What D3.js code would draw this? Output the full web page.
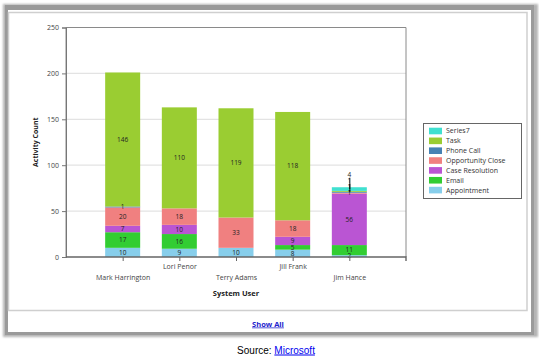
<!DOCTYPE html>
<html><head><meta charset="utf-8">
<script src="https://cdn.jsdelivr.net/npm/d3@7"></script>
<style>
html,body{margin:0;padding:0;background:#fff;}
svg{display:block;}
</style></head>
<body>
<svg id="chart" width="539" height="357"></svg>
<script>
// ---- data ----
const users = ["Mark Harrington", "Lori Penor", "Terry Adams", "Jill Frank", "Jim Hance"];
const seriesNames = ["Appointment", "Email", "Case Resolution", "Opportunity Close", "Phone Call", "Task", "Series7"];
const appointment = [10, 9, 10, 8, 2];
const email = [17, 16, 0, 5, 11];
const caseResolution = [7, 10, 0, 9, 56];
const opportunityClose = [20, 18, 33, 18, 1];
const phoneCall = [1, 0, 0, 0, 1];
const task = [146, 110, 119, 118, 1];
const series7 = [0, 0, 0, 0, 4];
const yTicks = [0, 50, 100, 150, 200, 250];
const seriesColors = ["#87CEEB", "#32CD32", "#BA55D3", "#F08080", "#4682B4", "#9ACD32", "#40E0D0"];
const legendOrder = ["Series7", "Task", "Phone Call", "Opportunity Close", "Case Resolution", "Email", "Appointment"];

const seriesValues = [appointment, email, caseResolution, opportunityClose, phoneCall, task, series7];
const rows = users.map((u, i) => {
  const r = {user: u};
  seriesNames.forEach((s, k) => r[s] = seriesValues[k][i]);
  return r;
});

const svg = d3.select("#chart");
const font = "'Open Sans', 'Noto Sans', sans-serif";

// ---- frame ----
const defs = svg.append("defs");
const f = defs.append("filter").attr("id", "blur").attr("x", "-5%").attr("y", "-5%").attr("width", "110%").attr("height", "110%");
f.append("feGaussianBlur").attr("stdDeviation", 1.2);
svg.append("rect").attr("x", 3).attr("y", 4).attr("width", 535).attr("height", 333).attr("fill", "#b4b4b4").attr("filter", "url(#blur)");
svg.append("rect").attr("x", 5).attr("y", 5).attr("width", 529).attr("height", 330).attr("fill", "#9a9a9a");
svg.append("rect").attr("x", 8).attr("y", 10).attr("width", 523).attr("height", 322).attr("fill", "#fff");
svg.append("rect").attr("x", 8.5).attr("y", 12.5).attr("width", 518.5).attr("height", 298).attr("fill", "none").attr("stroke", "#cfcfcf").attr("stroke-width", 1.5);

// ---- scales ----
const plot = {left: 66, right: 406, top: 27.5, bottom: 257};
const x = d3.scalePoint().domain(users).range([plot.left, plot.right]).padding(1);
const y = d3.scaleLinear().domain([0, 250]).range([plot.bottom, plot.top]);
const barW = 35;
const color = d3.scaleOrdinal().domain(seriesNames).range(seriesColors);

// grid
svg.append("g").selectAll("line").data(yTicks.filter(t => t > 0 && t < 250)).join("line")
  .attr("x1", plot.left).attr("x2", plot.right)
  .attr("y1", d => y(d)).attr("y2", d => y(d))
  .attr("stroke", "#e3e3e3").attr("stroke-width", 1.2);

// bars
const stack = d3.stack().keys(seriesNames)(rows);
const g = svg.append("g");
stack.forEach(layer => {
  g.append("g").attr("fill", color(layer.key)).selectAll("rect")
    .data(layer.filter(d => d[1] - d[0] > 0)).join("rect")
    .attr("x", d => x(d.data.user) - barW / 2)
    .attr("width", barW)
    .attr("y", d => y(d[1]))
    .attr("height", d => y(d[0]) - y(d[1]));
});

// labels with simple collision avoidance
const gap = 6;
const labG = svg.append("g").attr("font-family", font).attr("font-size", 6.5).attr("fill", "#222").attr("text-anchor", "middle");
users.forEach((u, i) => {
  let prev = Infinity;
  stack.forEach(layer => {
    const d = layer[i];
    const v = d[1] - d[0];
    if (v <= 0) return;
    const c = (y(d[0]) + y(d[1])) / 2;
    let ly = c;
    if (ly > prev - gap) ly = prev - gap;
    prev = ly;
    if (c - ly > 2.5) {
      labG.append("line").attr("x1", x(u) + 0.5).attr("x2", x(u) + 0.5).attr("y1", ly + 2.5).attr("y2", c)
        .attr("stroke", "#000").attr("stroke-width", 0.8);
    }
    labG.append("text").attr("x", x(u)).attr("y", ly).attr("dy", "0.35em").text(v);
  });
});

// plot border
svg.append("path")
  .attr("d", `M${plot.left},${plot.bottom}V${plot.top}H${plot.right}V${plot.bottom}`)
  .attr("fill", "none").attr("stroke", "#8a8a8a").attr("stroke-width", 1);

// y axis
const yAxis = svg.append("g").attr("transform", `translate(${plot.left},0)`)
  .call(d3.axisLeft(y).tickValues(yTicks).tickSize(4).tickPadding(3));
yAxis.select(".domain").attr("stroke", "#777");
yAxis.selectAll(".tick line").attr("stroke", "#777");
yAxis.selectAll("text").attr("font-family", font).attr("font-size", 7).attr("fill", "#444");

// x axis
const xAxis = svg.append("g").attr("transform", `translate(0,${plot.bottom})`)
  .call(d3.axisBottom(x).tickSize(4).tickSizeOuter(4).tickPadding(3));
xAxis.select(".domain").attr("stroke", "#666").attr("stroke-width", 1.4)
  .attr("d", `M${plot.left},0H${plot.right}V4`);
xAxis.selectAll(".tick line").attr("stroke", "#666");
xAxis.selectAll("text").attr("font-family", font).attr("font-size", 7).attr("fill", "#444")
  .attr("dy", (d, i) => i % 2 === 0 ? "2.3em" : "0.7em");

// axis titles
svg.append("text").attr("transform", `translate(38,${(plot.top + plot.bottom) / 2}) rotate(-90)`)
  .attr("text-anchor", "middle").attr("font-family", font).attr("font-size", 7).attr("font-weight", "bold")
  .attr("fill", "#222").text("Activity Count");
svg.append("text").attr("x", (plot.left + plot.right) / 2).attr("y", 296)
  .attr("text-anchor", "middle").attr("font-family", font).attr("font-size", 7.5).attr("font-weight", "bold")
  .attr("fill", "#222").text("System User");

// legend
const lg = svg.append("g");
lg.append("rect").attr("x", 423.5).attr("y", 123.5).attr("width", 98).attr("height", 75)
  .attr("fill", "#fff").attr("stroke", "#666");
legendOrder.forEach((s, i) => {
  const cy = 131 + i * 9.85;
  lg.append("rect").attr("x", 429).attr("y", cy - 3.3).attr("width", 13).attr("height", 6.6).attr("fill", color(s));
  lg.append("text").attr("x", 446).attr("y", cy).attr("dy", "0.35em")
    .attr("font-family", font).attr("font-size", 7).attr("fill", "#333").text(s);
});

// show all link
svg.append("text").attr("x", 268).attr("y", 326.5).attr("text-anchor", "middle")
  .attr("font-family", font).attr("font-size", 7.5).attr("font-weight", "bold")
  .attr("fill", "#2222cc").attr("text-decoration", "underline").text("Show All");

// source
const src = svg.append("text").attr("x", 276).attr("y", 353.5).attr("text-anchor", "middle")
  .attr("font-family", "'Liberation Sans', Arial, sans-serif").attr("font-size", 10).attr("fill", "#000");
src.append("tspan").text("Source: ");
src.append("tspan").attr("fill", "#0000ee").attr("text-decoration", "underline").text("Microsoft");
</script>
</body></html>
